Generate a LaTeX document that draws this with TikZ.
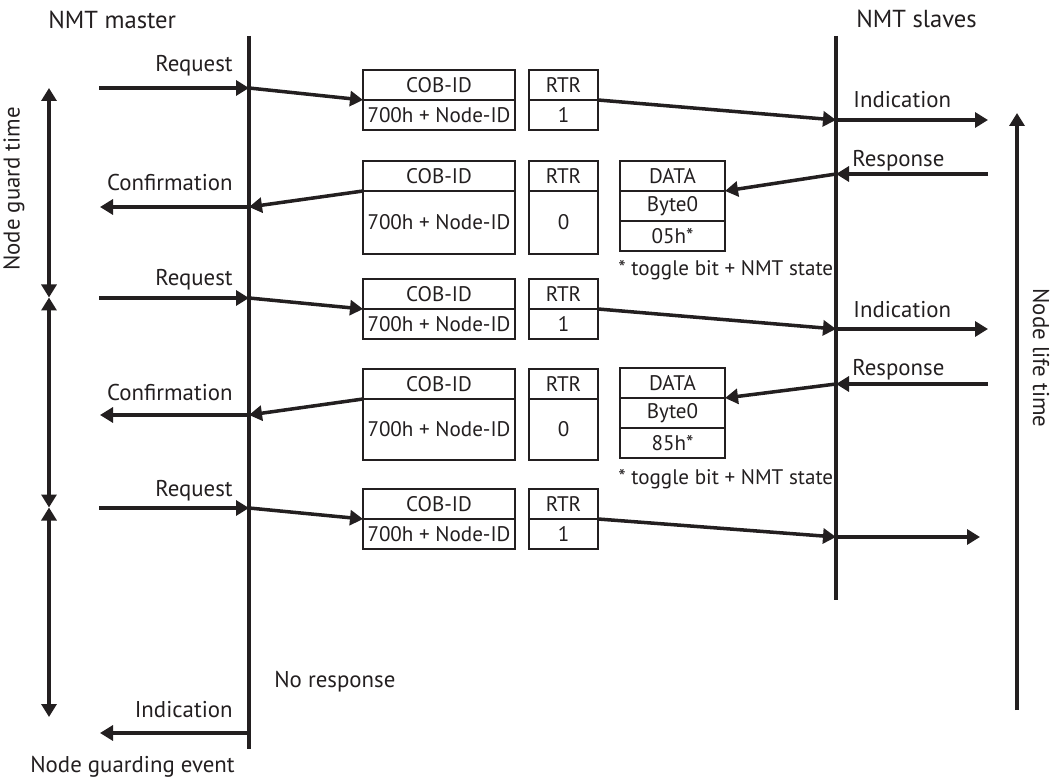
\documentclass[tikz,border=0pt]{standalone}
\usepackage{fontspec}
\setmainfont{PT Sans}
\usetikzlibrary{arrows.meta}
\definecolor{ink}{HTML}{231F20}
\tikzset{>={Triangle[length=2.6mm,width=3mm]}}
\tikzset{
  life/.style={ink, line width=2.6pt},
  msg/.style={ink, line width=2pt},
  cell/.style={draw=ink, line width=1.4pt, inner sep=0pt, outer sep=0pt, anchor=north west, text=ink, font=\fontsize{12}{14}\selectfont},
  cob/.style={cell, minimum width=30.4mm, minimum height=6mm},
  rtr/.style={cell, minimum width=13.8mm, minimum height=6mm},
  dat/.style={cell, minimum width=21mm, minimum height=6mm},
  lbl/.style={text=ink, inner sep=0pt, font=\fontsize{13}{15}\selectfont},
  head/.style={lbl, anchor=base west, font=\fontsize{14}{16}\selectfont},
  note/.style={lbl, anchor=base west, font=\fontsize{12}{14}\selectfont},
}

\begin{document}
\begin{tikzpicture}[x=0.2mm, y=-0.2mm]
\useasboundingbox (0,0) rectangle (1054,781);
% lifelines
\coordinate (mtop) at (249,36);
\coordinate (mbot) at (249,749);
\coordinate (stop) at (836,36);
\coordinate (sbot) at (836,600);
\draw[life] (mtop) -- (mbot);
\draw[life] (stop) -- (sbot);
\node[head] (master) at (48,29) {NMT master};
\node[head] (slaves) at (856,28) {NMT slaves};

% first request
\coordinate (reqA) at (99,88);
\coordinate (mA) at (249,88);
\node[cob] (cobA) at (363,70) {COB-ID};
\node[cob] (idA) at (cobA.south west) {700h + Node-ID};
\node[rtr] (rtrA) at (529,70) {RTR};
\node[rtr] (bitA) at (rtrA.south west) {1};
\coordinate (sA) at (836,120);
\coordinate (indA) at (988,120);
\draw[msg,->] (reqA) -- (mA);
\draw[msg,->] (mA) -- (idA.north west);
\draw[msg,->] (bitA.north east) -- (sA);
\draw[msg,->] (sA) -- (indA);
\node[lbl, anchor=base east] (reqAl) at (233,72) {Request};
\node[lbl, anchor=base west] (indAl) at (853,108) {Indication};

% first response
\coordinate (resB) at (988,174);
\coordinate (sB) at (836,174);
\node[dat] (datB) at (620,161) {DATA};
\node[dat] (byteB) at (datB.south west) {Byte0};
\node[dat] (valB) at (byteB.south west) {05h*};
\node[cob] (cobB) at (363,161) {COB-ID};
\node[cob, minimum height=12.6mm] (idB) at (cobB.south west) {700h + Node-ID};
\node[rtr] (rtrB) at (529,161) {RTR};
\node[rtr, minimum height=12.6mm] (bitB) at (rtrB.south west) {0};
\coordinate (mB) at (249,207);
\coordinate (cnfB) at (100,207);
\draw[msg,->] (resB) -- (sB);
\draw[msg,->] (sB) -- (byteB.north east);
\draw[msg,->] (idB.north west) -- (mB);
\draw[msg,->] (mB) -- (cnfB);
\node[lbl, anchor=base west] (resBl) at (852,167) {Response};
\node[lbl, anchor=base east] (cnfBl) at (233,191) {Confirmation};
\node[note] (noteB) at (618,276) {* toggle bit + NMT state};

% second request
\coordinate (reqC) at (99,298);
\coordinate (mC) at (249,298);
\node[cob] (cobC) at (363,279) {COB-ID};
\node[cob] (idC) at (cobC.south west) {700h + Node-ID};
\node[rtr] (rtrC) at (529,279) {RTR};
\node[rtr] (bitC) at (rtrC.south west) {1};
\coordinate (sC) at (836,329);
\coordinate (indC) at (988,329);
\draw[msg,->] (reqC) -- (mC);
\draw[msg,->] (mC) -- (idC.north west);
\draw[msg,->] (bitC.north east) -- (sC);
\draw[msg,->] (sC) -- (indC);
\node[lbl, anchor=base east] (reqCl) at (233,286) {Request};
\node[lbl, anchor=base west] (indCl) at (853,318) {Indication};

% second response
\coordinate (resD) at (988,384);
\coordinate (sD) at (836,384);
\node[dat] (datD) at (620,368) {DATA};
\node[dat] (byteD) at (datD.south west) {Byte0};
\node[dat] (valD) at (byteD.south west) {85h*};
\node[cob] (cobD) at (363,369) {COB-ID};
\node[cob, minimum height=12.2mm] (idD) at (cobD.south west) {700h + Node-ID};
\node[rtr] (rtrD) at (529,369) {RTR};
\node[rtr, minimum height=12.2mm] (bitD) at (rtrD.south west) {0};
\coordinate (mD) at (249,415);
\coordinate (cnfD) at (100,415);
\draw[msg,->] (resD) -- (sD);
\draw[msg,->] (sD) -- (byteD.north east);
\draw[msg,->] (idD.north west) -- (mD);
\draw[msg,->] (mD) -- (cnfD);
\node[lbl, anchor=base west] (resDl) at (852,376) {Response};
\node[lbl, anchor=base east] (cnfDl) at (233,401) {Confirmation};
\node[note] (noteD) at (618,484) {* toggle bit + NMT state};

% third request, no response
\coordinate (reqE) at (99,508);
\coordinate (mE) at (249,508);
\node[cob] (cobE) at (363,489) {COB-ID};
\node[cob] (idE) at (cobE.south west) {700h + Node-ID};
\node[rtr] (rtrE) at (529,489) {RTR};
\node[rtr] (bitE) at (rtrE.south west) {1};
\coordinate (sE) at (836,537);
\coordinate (indE) at (980,537);
\draw[msg,->] (reqE) -- (mE);
\draw[msg,->] (mE) -- (idE.north west);
\draw[msg,->] (bitE.north east) -- (sE);
\draw[msg,->] (sE) -- (indE);
\node[lbl, anchor=base east] (reqEl) at (233,496) {Request};

% guarding event
\coordinate (mF) at (249,733);
\coordinate (indF) at (100,733);
\draw[msg,->] (mF) -- (indF);
\node[lbl, anchor=base east] (indFl) at (233,717) {Indication};
\node[lbl, anchor=base west] (noresp) at (274,687) {No response};
\node[lbl, anchor=base west] (event) at (30,772) {Node guarding event};

% guard time and life time
\coordinate (gt0) at (49,88);
\coordinate (gt1) at (49,297.5);
\coordinate (gt2) at (49,507.5);
\coordinate (gt3) at (49,717);
\draw[msg,<->] (gt0) -- (gt1);
\draw[msg,<->] (gt1) -- (gt2);
\draw[msg,<->] (gt2) -- (gt3);
\node[lbl, rotate=90] (guard) at (14,189) {Node guard time};
\coordinate (lt0) at (1017,710);
\coordinate (lt1) at (1017,113);
\draw[msg,->] (lt0) -- (lt1);
\node[lbl, rotate=-90] (lifet) at (1041,358) {Node life time};
\end{tikzpicture}
\end{document}
